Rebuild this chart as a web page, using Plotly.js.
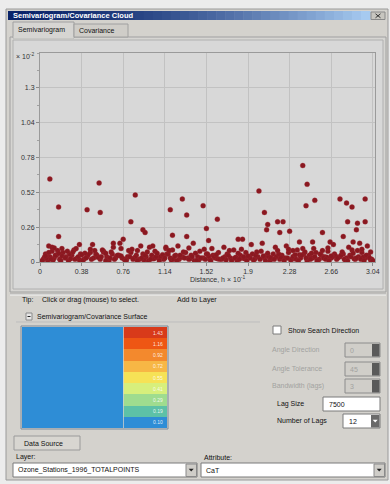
<!DOCTYPE html>
<html>
<head>
<meta charset="utf-8">
<script src="https://cdn.plot.ly/plotly-3.0.1.min.js"></script>
<style>
  html, body { margin: 0; padding: 0; background: #ececec; }
  #fig { width: 390px; height: 484px; }
</style>
</head>
<body>
<div id="fig"></div>
<script>
// Semivariogram cloud: lag distance (x) against semivariance (y) for point pairs
const lagDist = [
  0.03,0.05,0.07,0.09,0.11,0.13,0.15,0.18,0.21,0.24,
  0.26,0.29,0.31,0.34,0.37,0.40,0.43,0.46,0.49,0.52,
  0.55,0.58,0.61,0.63,0.66,0.69,0.72,0.74,0.77,0.80,
  0.83,0.86,0.88,0.91,0.94,0.97,0.99,1.02,1.05,1.08,
  1.10,1.13,1.16,1.19,1.21,1.24,1.27,1.30,1.33,1.35,
  1.38,1.41,1.44,1.46,1.49,1.52,1.55,1.58,1.60,1.63,
  1.66,1.69,1.71,1.74,1.77,1.80,1.83,1.85,1.88,1.91,
  1.94,1.96,1.99,2.02,2.05,2.07,2.10,2.13,2.16,2.19,
  2.21,2.24,2.27,2.30,2.32,2.35,2.38,2.41,2.44,2.46,
  2.49,2.52,2.55,2.57,2.60,2.63,2.66,2.69,2.71,2.74,
  2.77,2.80,2.83,2.85,2.88,2.91,2.94,2.97,3.00,3.03,
  0.04,0.12,0.20,0.28,0.36,0.44,0.53,0.62,0.70,0.79,
  0.87,0.95,1.04,1.12,1.20,1.29,1.37,1.45,1.54,1.62,
  1.70,1.79,1.87,1.95,2.04,2.12,2.20,2.29,2.37,2.45,
  2.54,2.62,2.70,2.79,2.87,2.95,3.02,0.16,0.58,1.00,
  0.08,0.33,0.48,0.67,0.92,1.15,1.40,1.68,1.93,2.25,
  2.50,2.68,2.82,2.99,1.57,2.15,0.73,1.26,2.40,2.92,
  0.09,0.54,0.17,0.43,0.55,0.87,0.83,1.30,1.19,1.34,
  0.94,0.96,1.21,0.17,0.67,0.76,1.34,1.03,1.15,0.36,
  0.11,0.20,2.40,2.44,2.00,2.51,2.43,1.49,1.62,2.05,
  2.74,2.80,2.85,2.97,2.81,2.97,2.90,2.89,2.08,2.07,
  2.17,2.22,2.19,2.28,1.52,1.54,1.81,1.85,2.58,2.77,
  2.03,2.37,2.49,2.65,2.86
];
const semivar = [
  0.02,0.06,0.01,0.04,0.08,0.03,0.05,0.02,0.07,0.04,
  0.01,0.05,0.09,0.03,0.06,0.02,0.04,0.07,0.03,0.05,
  0.02,0.08,0.04,0.01,0.06,0.03,0.05,0.10,0.02,0.04,
  0.07,0.03,0.05,0.02,0.06,0.04,0.01,0.05,0.08,0.03,
  0.04,0.02,0.06,0.03,0.09,0.05,0.02,0.04,0.07,0.03,
  0.05,0.01,0.04,0.08,0.03,0.06,0.02,0.05,0.03,0.07,
  0.02,0.04,0.06,0.03,0.09,0.01,0.05,0.03,0.07,0.04,
  0.06,0.02,0.04,0.08,0.03,0.05,0.01,0.06,0.04,0.02,
  0.05,0.03,0.07,0.02,0.04,0.09,0.03,0.06,0.01,0.05,
  0.03,0.07,0.02,0.05,0.04,0.08,0.03,0.06,0.02,0.04,
  0.06,0.03,0.05,0.09,0.02,0.04,0.07,0.03,0.05,0.02,
  0.035,0.015,0.045,0.025,0.015,0.055,0.035,0.025,0.045,0.015,
  0.035,0.015,0.025,0.055,0.015,0.035,0.025,0.015,0.045,0.025,
  0.015,0.035,0.025,0.015,0.045,0.025,0.035,0.015,0.055,0.025,
  0.015,0.035,0.045,0.015,0.025,0.035,0.015,0.085,0.075,0.11,
  0.12,0.10,0.13,0.11,0.12,0.10,0.14,0.11,0.13,0.12,
  0.10,0.13,0.11,0.12,0.10,0.11,0.14,0.12,0.10,0.14,
  0.62,0.59,0.41,0.39,0.37,0.50,0.30,0.47,0.39,0.35,
  0.24,0.22,0.20,0.19,0.14,0.17,0.19,0.12,0.11,0.13,
  0.11,0.10,0.72,0.58,0.53,0.46,0.42,0.42,0.32,0.37,
  0.47,0.44,0.41,0.47,0.30,0.30,0.29,0.24,0.28,0.24,
  0.30,0.30,0.22,0.23,0.25,0.16,0.17,0.17,0.22,0.19,
  0.14,0.15,0.15,0.15,0.15
];
// short-range and low-semivariance pairs that pack the bottom of the cloud
const nearDist = [
  0.02,0.06,0.10,0.14,0.19,0.23,0.27,0.32,0.35,0.39,
  0.42,0.47,0.51,0.56,0.60,0.64,0.68,0.71,0.75,0.78,
  0.82,0.85,0.89,0.93,0.96,1.01,1.06,1.09,1.14,1.17,
  1.22,1.25,1.28,1.32,1.36,1.39,1.43,1.47,1.51,1.53,
  1.56,1.59,1.64,1.67,1.72,1.75,1.78,1.82,1.86,1.89,
  1.92,1.97,2.01,2.06,2.09,2.11,2.14,2.18,2.23,2.26,
  2.31,2.34,2.36,2.39,2.43,2.47,2.51,2.53,2.56,2.59,
  2.61,2.64,2.67,2.72,2.75,2.78,2.81,2.84,2.89,2.93,
  2.96,2.98,3.01,3.04,0.08,0.25,0.41,0.57,0.65,0.81,
  0.05,0.17,0.30,0.38,0.50,0.60,0.74,0.84,0.98,1.07,
  1.18,1.23,1.31,1.42,1.50,1.61,1.73,1.81,1.90,1.98,
  2.08,2.17,2.27,2.33,2.42,2.48,2.58,2.66,2.76,2.86,
  2.94,3.02,0.13,0.46,0.89,1.36,1.84,2.31,2.63,2.90
];
const nearGamma = [
  0.010,0.030,0.020,0.050,0.010,0.030,0.060,0.020,0.040,0.010,
  0.030,0.020,0.060,0.040,0.010,0.030,0.020,0.050,0.030,0.010,
  0.040,0.020,0.010,0.030,0.050,0.020,0.040,0.010,0.030,0.060,
  0.020,0.010,0.050,0.030,0.020,0.040,0.010,0.030,0.020,0.060,
  0.010,0.040,0.020,0.030,0.050,0.010,0.030,0.020,0.040,0.010,
  0.030,0.050,0.020,0.010,0.040,0.030,0.020,0.060,0.010,0.030,
  0.040,0.020,0.010,0.050,0.030,0.020,0.040,0.010,0.060,0.030,
  0.020,0.010,0.040,0.030,0.050,0.020,0.010,0.040,0.030,0.020,
  0.010,0.050,0.030,0.010,0.070,0.080,0.065,0.090,0.075,0.085,
  0.045,0.065,0.075,0.055,0.085,0.065,0.045,0.095,0.075,0.065,
  0.085,0.045,0.075,0.065,0.095,0.055,0.085,0.065,0.045,0.075,
  0.065,0.085,0.095,0.055,0.075,0.065,0.085,0.045,0.075,0.065,
  0.095,0.075,0.105,0.095,0.085,0.105,0.095,0.085,0.105,0.085
];
const xTickVals = [0, 0.38, 0.76, 1.14, 1.52, 1.9, 2.28, 2.66, 3.04];
const xTickText = ["0", "0.38", "0.76", "1.14", "1.52", "1.9", "2.28", "2.66", "3.04"];
const yTickVals = [0, 0.26, 0.52, 0.78, 1.04, 1.3];
const yTickText = ["0", "0.26", "0.52", "0.78", "1.04", "1.3"];

// Semivariogram surface grid and its classed colour legend
const surfaceZ = [
  [0.06,0.05,0.04,0.05,0.04,0.05,0.06],
  [0.05,0.04,0.03,0.04,0.03,0.04,0.05],
  [0.04,0.03,0.02,0.03,0.02,0.03,0.04],
  [0.05,0.03,0.02,0.01,0.02,0.03,0.05],
  [0.04,0.03,0.02,0.03,0.02,0.03,0.04],
  [0.05,0.04,0.03,0.04,0.03,0.04,0.05],
  [0.06,0.05,0.04,0.05,0.04,0.05,0.06]
];
const bandEdges = [0, 0.10, 0.19, 0.29, 0.41, 0.55, 0.72, 0.92, 1.16, 1.43];
const bandColors = ["#2e8dd6", "#5dc1a7", "#9fdc8f", "#d7ef7c", "#f6e256",
                    "#f7b745", "#f3892d", "#ee5614", "#d83a1a"];
const bandLabels = ["0.10", "0.19", "0.29", "0.41", "0.55", "0.72", "0.92", "1.16", "1.43"];

const W = 390, H = 484;
const px = x => x / W;
const py = y => 1 - y / H;
const UI_FONT = "Liberation Sans, Arial, sans-serif";

function rect(x0, y0, x1, y1, fill, line, lw) {
  return {
    type: "rect", xref: "paper", yref: "paper", layer: "below",
    x0: px(x0), x1: px(x1), y0: py(y1), y1: py(y0),
    fillcolor: fill || "rgba(0,0,0,0)",
    line: { color: line || "rgba(0,0,0,0)", width: line ? (lw || 1) : 0 }
  };
}
function seg(x0, y0, x1, y1, color, lw) {
  return {
    type: "line", xref: "paper", yref: "paper", layer: "below",
    x0: px(x0), x1: px(x1), y0: py(y0), y1: py(y1),
    line: { color: color, width: lw || 1 }
  };
}
// small downward arrow used on combo-box buttons
function arrowDown(cx, cy, color) {
  const p = (x, y) => px(x).toFixed(5) + "," + py(y).toFixed(5);
  return {
    type: "path", xref: "paper", yref: "paper", layer: "above",
    path: "M" + p(cx - 2.5, cy - 1.2) + " L" + p(cx + 2.5, cy - 1.2) + " L" + p(cx, cy + 1.6) + " Z",
    fillcolor: color, line: { width: 0 }
  };
}
function label(x, y, t, opt) {
  opt = opt || {};
  return {
    xref: "paper", yref: "paper", x: px(x), y: py(y), text: t,
    showarrow: false, xanchor: opt.anchor || "left", yanchor: "middle",
    font: { family: UI_FONT, size: opt.size || 7, color: opt.color || "#111" }
  };
}

const shapes = [];
// window body
shapes.push(rect(6, 9, 388, 480, "#d4d2cd", "#9a9a9a"));
// title bar with a left-to-right blue gradient
const steps = 40;
const c0 = [10, 36, 106], c1 = [166, 202, 240];
for (let i = 0; i < steps; i++) {
  const t = i / (steps - 1);
  const c = c0.map((v, k) => Math.round(v + (c1[k] - v) * Math.pow(t, 1.6)));
  const xa = 8 + (370 - 8) * i / steps, xb = 8 + (370 - 8) * (i + 1) / steps + 0.5;
  shapes.push(rect(xa, 11, xb, 20, "rgb(" + c.join(",") + ")"));
}
shapes.push(rect(371, 12, 385, 19.5, "#c8c6c0", "#8a8a8a"));
shapes.push(seg(375.5, 13.8, 380.5, 17.8, "#333", 1));
shapes.push(seg(375.5, 17.8, 380.5, 13.8, "#333", 1));
// tabs
shapes.push(rect(10, 37, 386, 292, "#d6d5d2", "#a0a0a0"));
shapes.push(rect(13, 22, 74, 38, "#d6d5d2", "#a0a0a0"));
shapes.push(seg(13.5, 37.5, 73.5, 37.5, "#d6d5d2", 2));
shapes.push(rect(74, 24, 128, 37, "#cfcdc8", "#a0a0a0"));
// chart control
shapes.push(rect(13, 40, 383, 289, "#d8d8d8", "#b0b0b0"));
// separator under the chart page
shapes.push(seg(10, 294, 386, 294, "#a8a8a8"));
shapes.push(seg(10, 295, 386, 295, "#f4f4f4"));
// surface group header
shapes.push(rect(26, 313, 32, 320, "#e8e8e8", "#8a8a8a"));
shapes.push(seg(27.5, 316.5, 30.5, 316.5, "#222", 1));
shapes.push(seg(16, 322, 260, 322, "#bdbdbd"));
shapes.push(rect(21, 326, 168, 429, "rgba(0,0,0,0)", "#7d8a99"));
// search direction controls
shapes.push(rect(273, 326, 281, 334, "#ffffff", "#7a7a7a"));
[[343, 357], [362, 376], [379, 393]].forEach(r => {
  shapes.push(rect(345, r[0], 380, r[1], "#d0cec9", "#8c8c8c"));
  shapes.push(rect(372, r[0] + 1, 379.5, r[1] - 0.5, "#5a5a5a"));
});
// lag size box and number of lags combo
shapes.push(rect(323, 397, 380, 411, "#ffffff", "#7a7a7a"));
shapes.push(rect(343, 414, 380, 428, "#ffffff", "#7a7a7a"));
shapes.push(rect(371, 415, 379.5, 427.5, "#6a6a6a"));
shapes.push(arrowDown(375.2, 421, "#ffffff"));
// data source
shapes.push(rect(14, 436, 80, 450, "#d8d6d1", "#9a9a9a"));
shapes.push(rect(13, 463, 197, 477, "#ffffff", "#7a7a7a"));
shapes.push(rect(186, 464, 196.5, 476.5, "#cfcdc8", "#8a8a8a"));
shapes.push(arrowDown(191.2, 470, "#222"));
shapes.push(rect(201, 463, 385, 477, "#ffffff", "#7a7a7a"));
shapes.push(rect(374, 464, 384.5, 476.5, "#cfcdc8", "#8a8a8a"));
shapes.push(arrowDown(379.2, 470, "#222"));

const annotations = [
  label(11, 15.6, "<b>Semivariogram/Covariance Cloud</b>", { color: "#ffffff", size: 7.5 }),
  label(16, 30, "Semivariogram", { size: 7 }),
  label(77, 30.5, "Covariance", { size: 7 }),
  label(36, 56, "× 10<sup>-2</sup>", { anchor: "right", size: 7, color: "#333" }),
  label(217, 279, "Distance, h × 10<sup>-1</sup>", { anchor: "center", size: 7, color: "#333" }),
  label(20, 300, "Tip:", { size: 7 }),
  label(40, 300, "Click or drag (mouse) to select.", { size: 7 }),
  label(175, 300, "Add to Layer", { size: 7 }),
  label(35, 317, "Semivariogram/Covariance Surface", { size: 7 }),
  label(286, 330, "Show Search Direction", { size: 7 }),
  label(270, 350, "Angle Direction", { size: 7, color: "#a2a2a0" }),
  label(270, 369, "Angle Tolerance", { size: 7, color: "#a2a2a0" }),
  label(270, 386, "Bandwidth (lags)", { size: 7, color: "#a2a2a0" }),
  label(348, 350, "0", { size: 7, color: "#a2a2a0" }),
  label(348, 369, "45", { size: 7, color: "#a2a2a0" }),
  label(348, 386, "3", { size: 7, color: "#a2a2a0" }),
  label(275, 404, "Lag Size", { size: 7 }),
  label(327, 404, "7500", { size: 7 }),
  label(275, 421, "Number of Lags", { size: 7 }),
  label(347, 421, "12", { size: 7 }),
  label(22, 443, "Data Source", { size: 7 }),
  label(14, 457, "Layer:", { size: 7 }),
  label(202, 457, "Attribute:", { size: 7 }),
  label(16, 470, "Ozone_Stations_1996_TOTALPOINTS", { size: 7 }),
  label(204, 470, "CaT", { size: 7 })
];

// class colour scale shared by the surface and its legend strip
const zMax = bandEdges[bandEdges.length - 1];
const classScale = [];
bandColors.forEach((c, i) => {
  classScale.push([bandEdges[i] / zMax, c]);
  classScale.push([bandEdges[i + 1] / zMax, c]);
});
const stripZ = bandColors.map((c, i) => [(bandEdges[i] + bandEdges[i + 1]) / 2]);
const stripY = bandColors.map((c, i) => i);

bandLabels.forEach((t, i) => {
  annotations.push({
    xref: "x3", yref: "y3", x: 0.46, y: stripY[i], text: t, showarrow: false,
    xanchor: "right", yanchor: "middle",
    font: { family: UI_FONT, size: 5, color: "rgba(255,255,255,0.85)" }
  });
});

const cloud = {
  type: "scatter", mode: "markers",
  x: lagDist.concat(nearDist), y: semivar.concat(nearGamma),
  xaxis: "x", yaxis: "y", hoverinfo: "skip",
  marker: { size: 5, color: "#8a1820", line: { width: 0.7, color: "rgba(160,40,50,0.45)" } }
};
const surface = {
  type: "heatmap", z: surfaceZ, xaxis: "x2", yaxis: "y2",
  colorscale: classScale, zmin: 0, zmax: zMax, zauto: false, showscale: false, hoverinfo: "skip"
};
const strip = {
  type: "heatmap", z: stripZ, x: [0], y: stripY, xaxis: "x3", yaxis: "y3",
  colorscale: classScale, zmin: 0, zmax: zMax, zauto: false, showscale: false, hoverinfo: "skip"
};

const tickFont = { family: UI_FONT, size: 7, color: "#333" };
const layout = {
  width: W, height: H,
  margin: { l: 0, r: 0, t: 0, b: 0 },
  paper_bgcolor: "#ececec",
  plot_bgcolor: "rgba(0,0,0,0)",
  showlegend: false,
  xaxis: {
    domain: [px(40), px(375)], anchor: "y", range: [0, 3.06],
    tickvals: xTickVals, ticktext: xTickText, tickfont: tickFont,
    showgrid: true, gridcolor: "#c2c2c2", gridwidth: 1, zeroline: false,
    showline: true, linecolor: "#9a9a9a", mirror: true,
    ticks: "outside", ticklen: 3, tickcolor: "#8a8a8a", fixedrange: true
  },
  yaxis: {
    domain: [py(262), py(53)], anchor: "x", range: [0, 1.56],
    tickvals: yTickVals, ticktext: yTickText, tickfont: tickFont,
    showgrid: true, gridcolor: "#c2c2c2", gridwidth: 1, zeroline: false,
    showline: true, linecolor: "#9a9a9a", mirror: true,
    ticks: "outside", ticklen: 3, tickcolor: "#8a8a8a", fixedrange: true,
    minor: { ticks: "outside", ticklen: 2, tickcolor: "#a0a0a0", dtick: 0.13, showgrid: false }
  },
  xaxis2: { domain: [px(22), px(123)], anchor: "y2", visible: false, fixedrange: true },
  yaxis2: { domain: [py(428), py(327)], anchor: "x2", visible: false, fixedrange: true },
  xaxis3: { domain: [px(123.5), px(167)], anchor: "y3", visible: false, fixedrange: true },
  yaxis3: { domain: [py(428), py(327)], anchor: "x3", visible: false, fixedrange: true },
  shapes: shapes,
  annotations: annotations
};

Plotly.newPlot("fig", [surface, strip, cloud], layout, { staticPlot: true, displayModeBar: false });
</script>
</body>
</html>
